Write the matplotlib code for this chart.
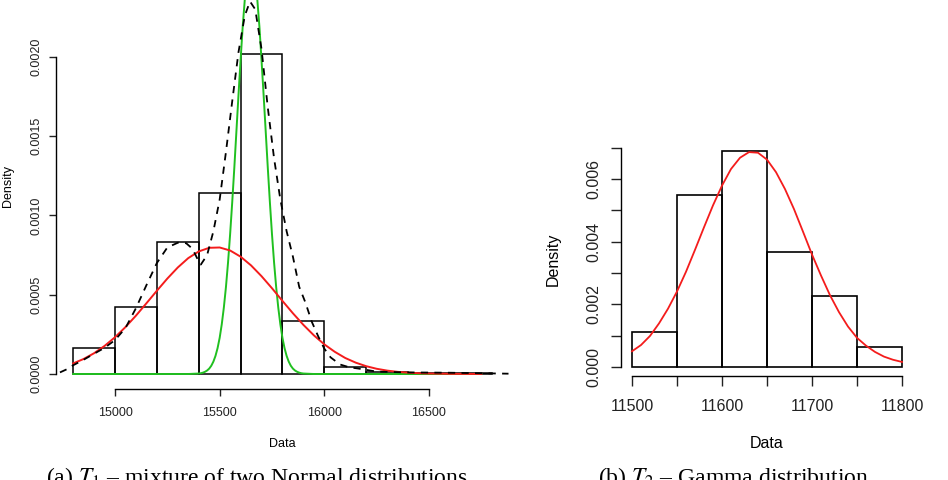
import matplotlib
matplotlib.use('Agg')
import matplotlib.pyplot as plt
import numpy as np

plt.rcParams['font.family'] = ['Liberation Sans', 'DejaVu Sans']
plt.rcParams['mathtext.fontset'] = 'stix'

W, H = 948, 480

# --- (a) T1: histogram + fitted curves ---
t1_edges = [14800, 15000, 15200, 15400, 15600, 15800, 16000, 16200, 16400, 16600, 16800]
t1_density = [0.000165, 0.00042, 0.00083, 0.00114, 0.00202, 0.000335, 0.000045, 0.00001, 0.000005, 0.000005]

t1_red_x = [14800, 14850, 14900, 14950, 15000, 15050, 15100, 15150, 15200, 15250, 15300, 15350,
            15400, 15450, 15500, 15550, 15600, 15650, 15700, 15750, 15800, 15850, 15900, 15950,
            16000, 16050, 16100, 16150, 16200, 16250, 16300, 16350, 16400, 16450, 16500, 16600, 16750]
t1_red_y = [0.0000667, 0.0000948, 0.000131, 0.000177, 0.000232, 0.000296, 0.000368, 0.000446,
            0.000525, 0.000602, 0.000672, 0.000731, 0.000773, 0.000796, 0.000798, 0.000779,
            0.00074, 0.000685, 0.000617, 0.000541, 0.000461, 0.000383, 0.00031, 0.000244,
            0.000187, 0.00014, 0.000101, 0.0000717, 0.0000493, 0.000033, 0.0000215, 0.0000137,
            0.0000085, 0.000005, 0.000003, 0.000001, 0.0]

t1_green_x = [14800, 15350] + list(range(15400, 15901, 10)) + [15950, 16750]
t1_green_y = [0.0, 0.0,
              0.000003, 0.000005, 0.0000085, 0.000014, 0.000022, 0.000034, 0.000052, 0.000078,
              0.000114, 0.000163, 0.000228, 0.000313, 0.000419, 0.000548, 0.000703, 0.000882,
              0.001083, 0.00130, 0.00153, 0.00176, 0.00198, 0.00219, 0.00236, 0.00249,
              0.00257, 0.00260, 0.00257, 0.00249, 0.00236, 0.00219, 0.00198, 0.00176,
              0.00153, 0.00130, 0.001083, 0.000882, 0.000703, 0.000548, 0.000419, 0.000313,
              0.000228, 0.000163, 0.000114, 0.000078, 0.000052, 0.000034, 0.000022, 0.000014,
              0.0000085, 0.000005, 0.000003,
              0.0, 0.0]

t1_dash_x = [14737, 14770, 14800, 14850, 14900, 14950, 15000, 15050, 15100, 15150, 15200, 15250,
             15300, 15340, 15370, 15400, 15410, 15440, 15470, 15500, 15530, 15560, 15590, 15620,
             15645, 15670, 15700, 15730, 15760, 15790, 15820, 15850, 15880, 15910, 15940, 15970,
             16000, 16030, 16075, 16120, 16160, 16250, 16400, 16600, 16880]
t1_dash_y = [0.00001, 0.00003, 0.000055, 0.00009, 0.000128, 0.000165, 0.000214, 0.00029, 0.000415,
             0.00056, 0.0007, 0.000798, 0.000828, 0.000825, 0.00079, 0.00071, 0.00069, 0.00075,
             0.0009, 0.0011, 0.0014, 0.00172, 0.00203, 0.00226, 0.00235, 0.0023, 0.00205,
             0.00168, 0.00136, 0.0011, 0.0009, 0.00074, 0.00055, 0.00045, 0.00033, 0.00024,
             0.00016, 0.000105, 0.00006, 0.000042, 0.000035, 0.000015, 0.00001, 0.000008, 0.000002]

t1_xticks = [15000, 15500, 16000, 16500]
t1_yticks = [0.0, 0.0005, 0.0010, 0.0015, 0.0020]
t1_ylabels = ['0.0000', '0.0005', '0.0010', '0.0015', '0.0020']

# --- (b) T2: histogram + gamma fit ---
t2_edges = [11500, 11550, 11600, 11650, 11700, 11750, 11800]
t2_density = [0.00112, 0.00549, 0.00689, 0.00367, 0.00227, 0.00064]

t2_fit_x = list(range(11500, 11801, 10))
t2_fit_y = [0.0005, 0.0007, 0.00099, 0.00139, 0.00186, 0.00241, 0.00304, 0.00374, 0.00446,
            0.00516, 0.00579, 0.00632, 0.00668, 0.00686, 0.00684, 0.00662, 0.00622, 0.00568,
            0.00504, 0.00432, 0.00359, 0.00292, 0.00229, 0.00175, 0.00129, 0.00093, 0.00068,
            0.00048, 0.00033, 0.00023, 0.00016]

t2_xticks = [11500, 11550, 11600, 11650, 11700, 11750, 11800]
t2_xlabels = ['11500', '', '11600', '', '11700', '', '11800']
t2_yticks = [0.0, 0.001, 0.002, 0.003, 0.004, 0.005, 0.006, 0.007]
t2_ylabels = ['0.000', '', '0.002', '', '0.004', '', '0.006', '']

RED = '#f41c1c'
GREEN = '#20c020'


def px_axes(fig, l, t, r, b):
    return fig.add_axes([l / W, 1 - b / H, (r - l) / W, (b - t) / H])


def r_style(ax, xb, yb, fs, tick_len, pad_x, pad_y):
    for s in ['top', 'right']:
        ax.spines[s].set_visible(False)
    ax.spines['left'].set_bounds(*yb)
    ax.spines['bottom'].set_bounds(*xb)
    for s in ['left', 'bottom']:
        ax.spines[s].set_linewidth(1.0)
    ax.tick_params(direction='out', length=tick_len, width=1.0, labelsize=fs, colors='#222222')
    ax.tick_params(axis='x', pad=pad_x)
    ax.tick_params(axis='y', pad=pad_y)
    for lab in ax.get_yticklabels():
        lab.set_rotation(90)
        lab.set_va('center')


fig = plt.figure(figsize=(W / 100, H / 100), dpi=100)

# left panel
ax1 = px_axes(fig, 56.4, -16, 508.5, 389)
ax1.bar(t1_edges[:-1], t1_density, width=np.diff(t1_edges), align='edge',
        fill=False, edgecolor='black', linewidth=1.1)
ax1.plot(t1_green_x, t1_green_y, color=GREEN, lw=1.4)
ax1.plot(t1_red_x, t1_red_y, color=RED, lw=1.4)
ax1.plot(t1_dash_x, t1_dash_y, color='black', lw=1.3, ls=(0, (4, 3.5)))
ax1.set_xlim(14720, 16880)
ax1.set_ylim(-0.0000946, 0.00246)
ax1.set_xticks(t1_xticks)
ax1.set_xticklabels([str(v) for v in t1_xticks])
ax1.set_yticks(t1_yticks)
ax1.set_yticklabels(t1_ylabels)
r_style(ax1, (15000, 16500), (0.0, 0.002), 9, 5, 8, 5)

fig.text(282 / W, 1 - 444 / H, 'Data', ha='center', va='center', fontsize=9)
fig.text(8 / W, 1 - 186 / H, 'Density', ha='center', va='center', rotation=90, fontsize=9)

# right panel
ax2 = px_axes(fig, 621.2, 142.4, 912.8, 375.6)
ax2.bar(t2_edges[:-1], t2_density, width=np.diff(t2_edges), align='edge',
        fill=False, edgecolor='black', linewidth=1.2)
ax2.plot(t2_fit_x, t2_fit_y, color=RED, lw=1.3)
ax2.set_xlim(11488, 11812)
ax2.set_ylim(-0.000276, 0.00717)
ax2.set_xticks(t2_xticks)
ax2.set_xticklabels(t2_xlabels)
ax2.set_yticks(t2_yticks)
ax2.set_yticklabels(t2_ylabels)
r_style(ax2, (11500, 11800), (0.0, 0.007), 11.5, 7, 10, 7)

fig.text(767 / W, 1 - 444 / H, 'Data', ha='center', va='center', fontsize=11.5)
fig.text(553 / W, 1 - 259 / H, 'Density', ha='center', va='center', rotation=90, fontsize=11.5)

# captions (cut at the bottom edge as in the source)
fig.text(257 / W, -4 / H, r'(a) $T_1$ – mixture of two Normal distributions',
         ha='center', va='baseline', fontsize=17, family=['Liberation Serif', 'DejaVu Serif'])
fig.text(733 / W, -4 / H, r'(b) $T_2$ – Gamma distribution',
         ha='center', va='baseline', fontsize=17, family=['Liberation Serif', 'DejaVu Serif'])

plt.savefig('out.png', dpi=100)
plt.close()
